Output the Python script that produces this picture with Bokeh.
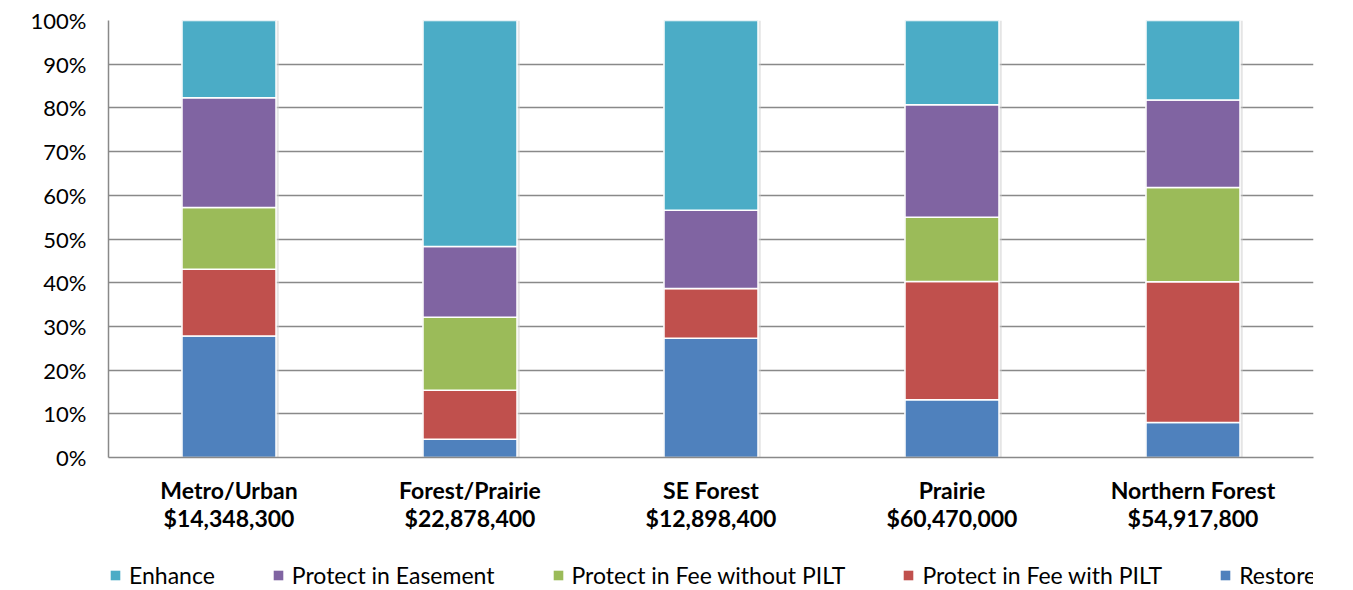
from bokeh.plotting import figure
from bokeh.layouts import column
from bokeh.models import (Legend, LegendItem, NumeralTickFormatter, FixedTicker,
                          CategoricalAxis, Range1d, FactorRange)
from bokeh.transform import dodge
from bokeh.embed import file_html
from bokeh.resources import INLINE

regions = ["Metro/Urban", "Forest/Prairie", "SE Forest", "Prairie", "Northern Forest"]
amounts = ["$14,348,300", "$22,878,400", "$12,898,400", "$60,470,000", "$54,917,800"]

restore = [27.8, 4.2, 27.3, 13.2, 8.0]
fee_pilt = [15.3, 11.2, 11.4, 27.1, 32.2]
fee_no_pilt = [14.1, 16.7, 0.0, 14.7, 21.6]
easement = [25.1, 16.2, 17.9, 25.7, 20.0]
enhance = [17.7, 51.7, 43.4, 19.3, 18.2]

series_names = ["Restore", "Protect in Fee with PILT", "Protect in Fee without PILT",
                "Protect in Easement", "Enhance"]
colors = ["#4F81BD", "#C0504D", "#9BBB59", "#8064A2", "#4BACC6"]

FONT = "Lato"
GRID = "#898989"

data = {"region": regions}
keys = ["restore", "fee_pilt", "fee_no_pilt", "easement", "enhance"]
series = [restore, fee_pilt, fee_no_pilt, easement, enhance]
for k, vals in zip(keys, series):
    data[k] = [v / 100.0 for v in vals]
data["total"] = [sum(vals) / 100.0 for vals in zip(*series)]

p = figure(x_range=FactorRange(*regions), y_range=Range1d(0, 1),
           frame_width=1205, frame_height=437,
           output_backend="svg", toolbar_location=None,
           min_border_left=108, min_border_right=40, min_border_top=20,
           min_border_bottom=80, outline_line_color=None)
p.extra_x_ranges = {"amounts": FactorRange(*amounts)}

# soft shadow behind each bar
p.vbar(x=dodge("region", 0.004, range=p.x_range), top="total", bottom=-0.004,
       width=0.405, source=data, color="#d0d0d0", alpha=0.55, line_color=None)

renderers = p.vbar_stack(keys, x="region", width=0.39, source=data,
                         color=colors, line_color="white", line_width=1.5)

# axes
p.yaxis.ticker = FixedTicker(ticks=[i / 10 for i in range(11)])
p.yaxis.formatter = NumeralTickFormatter(format="0%")


def style_axis(ax):
    ax.major_tick_line_color = None
    ax.minor_tick_line_color = None
    ax.major_tick_out = 0
    ax.major_tick_in = 0
    ax.minor_tick_out = 0
    ax.minor_tick_in = 0
    ax.major_label_text_font = FONT
    ax.major_label_text_color = "#000000"


for ax in (p.xaxis[0], p.yaxis[0]):
    style_axis(ax)
    ax.axis_line_color = GRID
    ax.axis_line_width = 1.5

p.yaxis.major_label_text_font_size = "22px"
p.yaxis.major_label_standoff = 22
p.xaxis.major_label_text_font_size = "23px"
p.xaxis.major_label_text_font_style = "bold"
p.xaxis.major_label_standoff = 18

amount_axis = CategoricalAxis(x_range_name="amounts")
style_axis(amount_axis)
amount_axis.axis_line_color = None
amount_axis.major_label_text_font_size = "23px"
amount_axis.major_label_text_font_style = "bold"
amount_axis.major_label_standoff = -3
p.add_layout(amount_axis, "below")

p.xgrid.grid_line_color = None
p.ygrid.grid_line_color = GRID
p.ygrid.grid_line_width = 1.5

# legend strip below the chart (swatch renderers are zero-height placeholders)
lg = figure(width=1353, height=53, x_range=(0, 1), y_range=(0, 1),
            output_backend="svg", toolbar_location=None,
            x_axis_type=None, y_axis_type=None, min_border=0,
            outline_line_color=None)
lg.grid.visible = False
swatches = [lg.vbar(x=[0.5], top=[0], bottom=[0], width=0.01, fill_color=c,
                    line_color=None) for c in colors]
items = [LegendItem(label=n, renderers=[r]) for n, r in zip(series_names, swatches)][::-1]
legend = Legend(items=items, orientation="horizontal", location=(1, 1),
                label_text_font=FONT, label_text_font_size="23px",
                label_text_color="#000000",
                glyph_width=12, glyph_height=12, label_standoff=8, spacing=57,
                border_line_color=None, background_fill_alpha=0,
                padding=0, margin=0)
lg.add_layout(legend, "center")

layout = column(p, lg, spacing=0)
open("out.html", "w").write(file_html(layout, INLINE))
